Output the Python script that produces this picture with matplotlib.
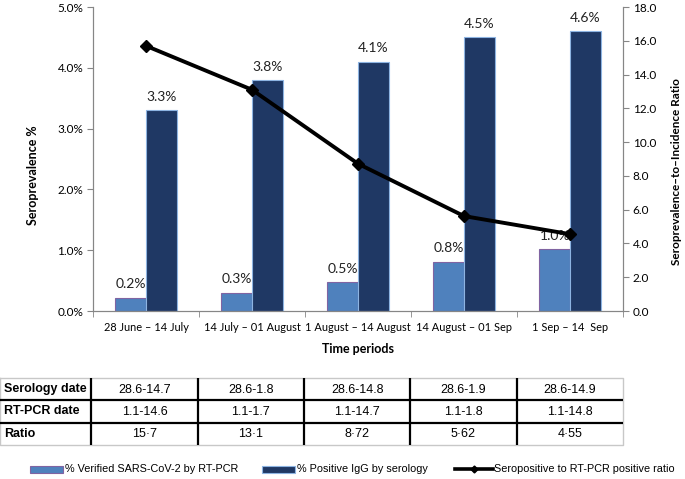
import matplotlib
matplotlib.use("Agg")
import matplotlib.pyplot as plt
from matplotlib.patches import Rectangle
from matplotlib.lines import Line2D
import numpy as np

# chart data
periods = ["28 June \u2013 14 July", "14 July \u2013 01 August", "1 August \u2013 14 August",
           "14 August \u2013 01 Sep", "1 Sep \u2013 14  Sep"]
pcr_pct = [0.22, 0.30, 0.48, 0.81, 1.02]
igg_pct = [3.30, 3.80, 4.10, 4.50, 4.60]
ratio = [15.7, 13.1, 8.72, 5.62, 4.55]

# table under the chart
row_names = ["Serology date", "RT-PCR date", "Ratio"]
serology_dates = ["28.6-14.7", "28.6-1.8", "28.6-14.8", "28.6-1.9", "28.6-14.9"]
rtpcr_dates = ["1.1-14.6", "1.1-1.7", "1.1-14.7", "1.1-1.8", "1.1-14.8"]
ratio_text = ["15\u00b77", "13\u00b71", "8\u00b772", "5\u00b762", "4\u00b755"]

legend_labels = ["% Verified SARS-CoV-2 by RT-PCR", "% Positive IgG by serology",
                 "Seropositive to RT-PCR positive ratio"]

light = "#4F81BD"
dark = "#1F3864"
grey = "#868686"
chart_font = ["Lato", "DejaVu Sans"]
table_font = ["Liberation Sans Narrow", "Liberation Sans", "DejaVu Sans"]

W, H = 685, 479
fig = plt.figure(figsize=(W / 100, H / 100), dpi=100)

def box(x0, y0, x1, y1):
    return [x0 / W, 1 - y1 / H, (x1 - x0) / W, (y1 - y0) / H]

ax = fig.add_axes(box(93, 7, 623, 311))
x = np.arange(len(periods))
bw = 0.29
ax.bar(x - bw / 2, pcr_pct, bw, color=light, edgecolor="#8064A2", linewidth=0.8, zorder=2)
ax.bar(x + bw / 2, igg_pct, bw, color=dark, edgecolor="#8DB4E2", linewidth=0.8, zorder=2)
for xi, v in zip(x, pcr_pct):
    ax.text(xi - bw / 2, v + 0.12, "%.1f%%" % v, ha="center", va="bottom",
            fontsize=10, family=chart_font, color="#222222")
for xi, v in zip(x, igg_pct):
    ax.text(xi + bw / 2, v + 0.12, "%.1f%%" % v, ha="center", va="bottom",
            fontsize=10, family=chart_font, color="#222222")

ax.set_xlim(-0.5, len(periods) - 0.5)
ax.set_ylim(0, 5)
ax.set_yticks(np.arange(0, 5.01, 1))
ax.set_yticklabels(["%.1f%%" % t for t in np.arange(0, 5.01, 1)], family=chart_font, fontsize=8.5)
ax.set_xticks(x)
ax.set_xticklabels(periods, family=chart_font, fontsize=7.9)
ax.set_xticks(np.arange(-0.5, len(periods)), minor=True)
ax.tick_params(axis="x", which="major", length=0, pad=8)
ax.tick_params(axis="x", which="minor", length=4, color=grey, direction="out")
ax.tick_params(axis="y", length=4, color=grey, direction="out", pad=3)
ax.spines["top"].set_visible(False)
for s in ["left", "bottom", "right"]:
    ax.spines[s].set_color(grey)
ax.set_ylabel("Seroprevalence %", fontsize=9, fontweight="bold", family=chart_font)
ax.yaxis.set_label_coords(-0.102, 0.447)
ax.set_xlabel("Time periods", fontsize=9, fontweight="bold", family=chart_font, labelpad=7)

ax2 = ax.twinx()
ax2.plot(x, ratio, color="black", linewidth=2.8, marker="D", markersize=6, zorder=3)
ax2.set_ylim(0, 18)
ax2.set_yticks(np.arange(0, 18.1, 2))
ax2.set_yticklabels(["%.1f" % t for t in np.arange(0, 18.1, 2)], family=chart_font, fontsize=8.5)
ax2.tick_params(axis="y", length=4, color=grey, direction="out", pad=3)
ax2.spines["top"].set_visible(False)
for s in ["left", "bottom", "right"]:
    ax2.spines[s].set_color(grey)
ax2.set_ylabel("Seroprevalence\u2013to\u2013Incidence Ratio", fontsize=8.5, fontweight="bold",
               family=chart_font)
ax2.yaxis.set_label_coords(1.090, 0.46)

# table drawn in category units so columns line up with the chart
tb = fig.add_axes(box(0, 378, 623, 445))
left_edge = -0.5 - 91 / 106
tb.set_xlim(left_edge, len(periods) - 0.5)
tb.set_ylim(3, 0)
tb.axis("off")
tb.plot([left_edge, 4.5, 4.5, left_edge, left_edge], [0, 0, 3, 3, 0], color="#C8C8C8",
        linewidth=1, clip_on=False)
for r in [1, 2]:
    tb.plot([left_edge, 4.5], [r, r], color="black", linewidth=1.6)
for c in np.arange(-0.5, 4.0):
    tb.plot([c, c], [0, 3], color="black", linewidth=1.6)
for r, name in enumerate(row_names):
    tb.text(left_edge + 0.04, r + 0.5, name, ha="left", va="center", fontsize=9,
            fontweight="bold", family=table_font)
for r, vals in enumerate([serology_dates, rtpcr_dates, ratio_text]):
    for c, v in enumerate(vals):
        tb.text(c, r + 0.52, v, ha="center", va="center", fontsize=9, family=table_font)

# legend laid out by hand along the bottom
lg = fig.add_axes([0, 0, 1, 1], zorder=-1)
lg.set_xlim(0, W)
lg.set_ylim(H, 0)
lg.axis("off")
ly = 469
lg.add_patch(Rectangle((30, ly - 3.5), 33, 7, facecolor=light, edgecolor="#8064A2", linewidth=0.8))
lg.add_patch(Rectangle((262, ly - 3.5), 33, 7, facecolor=dark, edgecolor="#8DB4E2", linewidth=0.8))
lg.add_line(Line2D([455, 493], [ly, ly], color="black", linewidth=2.6))
lg.add_line(Line2D([474], [ly], color="black", marker="D", markersize=3.5))
for tx, lab in zip([65, 297, 494], legend_labels):
    lg.text(tx, ly, lab, ha="left", va="center", fontsize=7.8, family=table_font)

fig.savefig("out.png", dpi=100)
